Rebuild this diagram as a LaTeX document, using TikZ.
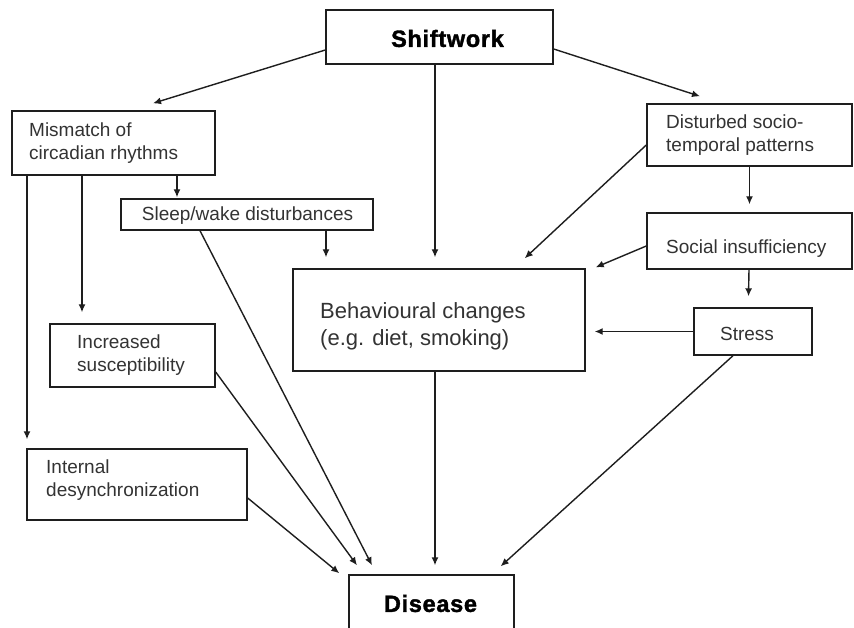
\documentclass[tikz,border=0pt]{standalone}
\usepackage{fontspec}
\setmainfont{Liberation Sans}
\newfontfamily\heavyfont{Liberation Sans}[BoldFeatures={FakeBold=1.6,LetterSpace=3}]
\usetikzlibrary{arrows.meta}
\definecolor{ink}{HTML}{1E1E1E}
\definecolor{txtc}{HTML}{333333}
\tikzset{
  box/.style={draw=ink, line width=1.4pt, rectangle, inner sep=0pt},
  txt/.style={inner sep=0pt, align=left, text=txtc, font=\fontsize{19}{23}\selectfont},
  bigtxt/.style={inner sep=0pt, align=left, text=txtc, font=\fontsize{22}{27}\selectfont},
  boldtxt/.style={inner sep=0pt, text=black, font=\fontsize{23.5}{28}\selectfont\heavyfont\bfseries},
  arr/.style={draw=ink, line width=1.4pt, -{Latex[length=8pt,width=7pt]}}
}
\begin{document}
\begin{tikzpicture}[x=1pt,y=-1pt]
\useasboundingbox (0,0) rectangle (854,628);
\clip (0,0) rectangle (854,628);
\fill[white] (0,0) rectangle (854,628);
% boxes
\node[box, minimum width=227pt, minimum height=54pt] (shift) at (439.5,37) {};
\node[box, minimum width=203pt, minimum height=64pt] (mism) at (113.5,143) {};
\node[box, minimum width=252pt, minimum height=31pt] (sleep) at (247,214.5) {};
\node[box, minimum width=165pt, minimum height=63pt] (incr) at (132.5,355.5) {};
\node[box, minimum width=220pt, minimum height=71pt] (intl) at (137,484.5) {};
\node[box, minimum width=292pt, minimum height=102pt] (beh) at (439,320) {};
\node[box, minimum width=205pt, minimum height=62pt] (dist) at (749.5,135) {};
\node[box, minimum width=205pt, minimum height=56pt] (soc) at (749.5,241) {};
\node[box, minimum width=118pt, minimum height=47pt] (stress) at (753,331.5) {};
\node[box, minimum width=165pt, minimum height=65pt] (dis) at (431.5,607.5) {};
% texts
\node[boldtxt] (shiftt) at (447.5,38.5) {Shiftwork};
\node[txt, anchor=west] (mismt) at (29,143) {Mismatch of\\circadian rhythms};
\node[txt] (sleept) at (247.5,216) {Sleep/wake disturbances};
\node[txt, anchor=west] (incrt) at (77,355) {Increased\\susceptibility};
\node[txt, anchor=west] (intlt) at (46,480) {Internal\\desynchronization};
\node[bigtxt, anchor=west] (beht) at (320,326) {Behavioural changes\\(e.g. diet, smoking)};
\node[txt, anchor=west] (distt) at (666,135) {Disturbed socio-\\temporal patterns};
\node[txt, anchor=west] (soct) at (666,249) {Social insufficiency};
\node[txt] (stresst) at (747,334) {Stress};
\node[boldtxt] (dist2) at (430.5,603.5) {Disease};
% arrows
\draw[arr] ([yshift=-13pt]shift.west) -- ([xshift=39.5pt,yshift=7pt]mism.north);
\draw[arr] ([yshift=-12pt]shift.east) -- ([xshift=-49.5pt,yshift=7pt]dist.north);
\draw[arr] ([xshift=-4.5pt]shift.south) -- ([xshift=-4pt,yshift=11pt]beh.north);
\draw[arr] ([xshift=63.5pt]mism.south) -- ([xshift=-70pt,yshift=1pt]sleep.north);
\draw[arr] ([xshift=-31.5pt]mism.south) -- ([xshift=-50.5pt,yshift=11pt]incr.north);
\draw[arr] ([xshift=-86.5pt]mism.south) -- ([xshift=-110pt,yshift=9pt]intl.north);
\draw[arr] ([xshift=79pt]sleep.south) -- ([xshift=-113pt,yshift=11pt]beh.north);
\draw[arr] ([xshift=-47pt]sleep.south) -- ([xshift=-59.5pt,yshift=9pt]dis.north);
\draw[arr] ([yshift=-16.5pt]incr.east) -- ([xshift=-74.5pt,yshift=9pt]dis.north);
\draw[arr] ([yshift=-13.5pt]intl.east) -- ([xshift=-9pt,yshift=1pt]dis.north west);
\draw[arr] ([xshift=-4pt]beh.south) -- ([xshift=3.5pt,yshift=9pt]dis.north);
\draw[arr] ([yshift=-10pt]dist.west) -- ([xshift=-61pt,yshift=10pt]beh.north east);
\draw[arr] (dist.south) -- ([yshift=8pt]soc.north);
\draw[arr] ([yshift=-5pt]soc.west) -- ([xshift=10pt,yshift=1pt]beh.north east);
\draw[arr] ([xshift=-0.5pt]soc.south) -- ([xshift=-4.5pt,yshift=11pt]stress.north);
\draw[arr] (stress.west) -- ([xshift=9pt,yshift=-11.5pt]beh.east);
\draw[arr] ([xshift=-20pt]stress.south) -- ([xshift=-14pt,yshift=8pt]dis.north east);
\end{tikzpicture}
\end{document}
